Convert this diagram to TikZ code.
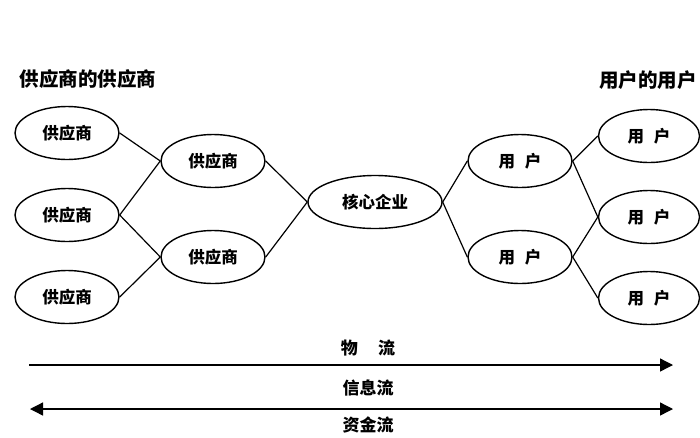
\documentclass[tikz,border=0pt]{standalone}
\usepackage{fontspec}
\setmainfont{Noto Sans CJK SC}
\usetikzlibrary{shapes.geometric,arrows.meta}
\begin{document}
\begin{tikzpicture}[x=1pt,y=-1pt,
  ell/.style={draw,ellipse,line width=1.4pt,minimum width=104pt,minimum height=53pt,inner sep=0pt,font=\fontsize{16.5}{16.5}\selectfont\bfseries},
  link/.style={line width=1.2pt},
  flow/.style={line width=1.3pt},
  bigtip/.tip={Triangle[length=13pt,width=13pt]},
  lbl/.style={font=\fontsize{17}{17}\selectfont\bfseries,inner sep=0pt},
  ttl/.style={font=\fontsize{19.5}{19.5}\selectfont\bfseries,inner sep=0pt}]
\useasboundingbox (0,0) rectangle (700,437);
\node[ttl] (t1) at (88,79) {供应商的供应商};
\node[ttl] (t2) at (648,80) {用户的用户};
\node[ell] (a1) at (67,133) {供应商};
\node[ell] (a2) at (67,215) {供应商};
\node[ell] (a3) at (67,297) {供应商};
\node[ell] (b1) at (213,161) {供应商};
\node[ell] (b2) at (213,257) {供应商};
\node[ell,minimum width=134pt] (c) at (375,202) {核心企业};
\node[ell] (d1) at (520,161) {用\hspace{0.6em}户};
\node[ell] (d2) at (520,257) {用\hspace{0.6em}户};
\node[ell,minimum width=101pt] (e1) at (649,136) {用\hspace{0.6em}户};
\node[ell,minimum width=101pt] (e2) at (649,217) {用\hspace{0.6em}户};
\node[ell,minimum width=101pt] (e3) at (649,298) {用\hspace{0.6em}户};
\draw[link] (a1.east) -- (b1.west);
\draw[link] (a2.east) -- (b1.west);
\draw[link] (a2.east) -- (b2.west);
\draw[link] (a3.east) -- (b2.west);
\draw[link] (b1.east) -- (c.west);
\draw[link] (b2.east) -- (c.west);
\draw[link] (c.east) -- (d1.west);
\draw[link] (c.east) -- (d2.west);
\draw[link] (d1.east) -- (e1.west);
\draw[link] (d1.east) -- (e2.west);
\draw[link] (d2.east) -- (e2.west);
\draw[link] (d2.east) -- (e3.west);
\node[lbl] (l1) at (368,348) {物\hspace{1.2em}流};
\node[lbl] (l2) at (368,388) {信息流};
\node[lbl] (l3) at (368,425) {资金流};
\coordinate (p1) at (29,365);
\coordinate (q1) at (673,365);
\coordinate (p2) at (30,409);
\coordinate (q2) at (673,409);
\draw[flow,-bigtip] (p1) -- (q1);
\draw[flow,bigtip-bigtip] (p2) -- (q2);
\end{tikzpicture}
\end{document}
